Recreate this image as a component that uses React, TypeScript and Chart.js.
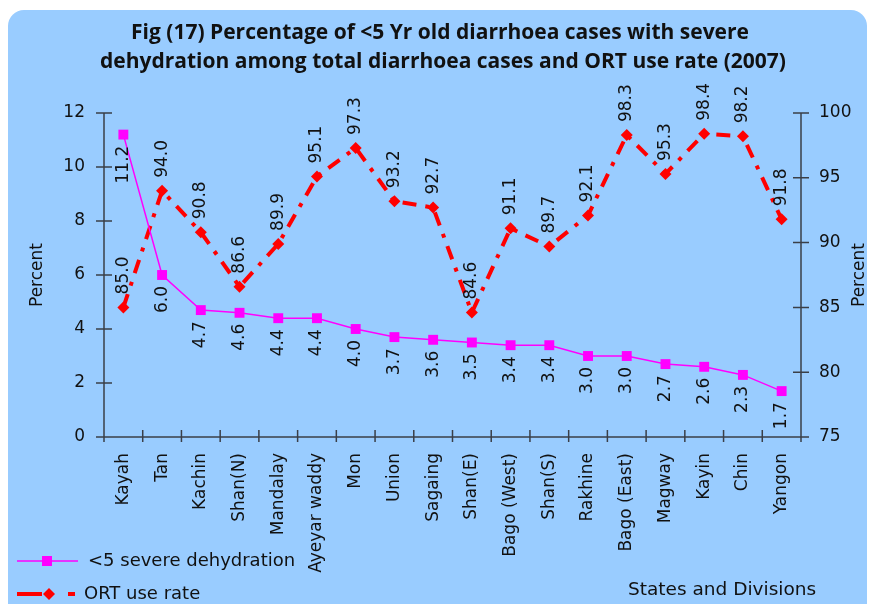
import React, { useEffect, useRef } from "react";
import { Chart, registerables } from "chart.js";

Chart.register(...registerables);

const categories = [
  "Kayah", "Tan", "Kachin", "Shan(N)", "Mandalay", "Ayeyar waddy", "Mon", "Union", "Sagaing",
  "Shan(E)", "Bago (West)", "Shan(S)", "Rakhine", "Bago (East)", "Magway", "Kayin", "Chin", "Yangon",
];
const severeDehydration = [11.2, 6.0, 4.7, 4.6, 4.4, 4.4, 4.0, 3.7, 3.6, 3.5, 3.4, 3.4, 3.0, 3.0, 2.7, 2.6, 2.3, 1.7];
const ortUseRate = [85.0, 94.0, 90.8, 86.6, 89.9, 95.1, 97.3, 93.2, 92.7, 84.6, 91.1, 89.7, 92.1, 98.3, 95.3, 98.4, 98.2, 91.8];
const titleLines = [
  "Fig (17) Percentage of <5 Yr old diarrhoea cases with severe",
  "dehydration among total diarrhoea cases and ORT use rate (2007)",
];
const seriesNames = ["<5 severe dehydration", "ORT use rate"];
const leftAxisRange = [0, 12, 2];
const rightAxisRange = [75, 100, 5];
const axisTitle = "Percent";
const xAxisTitle = "States and Divisions";

const FONT = "'DejaVu Sans', sans-serif";
const AXIS = "#3a3f48";
const ORT_DASH = [14, 9, 4, 9];

const decorPlugin = {
  id: "decor",
  beforeDraw(chart: any) {
    const ctx = chart.ctx;
    ctx.save();
    ctx.fillStyle = "#ffffff";
    ctx.fillRect(0, 0, chart.width, chart.height);
    ctx.fillStyle = "#99ccff";
    ctx.beginPath();
    (ctx as any).roundRect(8, 10, 859, 620, 16);
    ctx.fill();
    ctx.restore();
  },
  beforeDatasetsDraw(chart: any) {
    const ctx = chart.ctx;
    const { left, right, top, bottom } = chart.chartArea;
    const x = chart.scales.x;
    const y = chart.scales.y;
    const y1 = chart.scales.y1;
    ctx.save();
    ctx.strokeStyle = AXIS;
    ctx.lineWidth = 1.5;
    ctx.beginPath();
    ctx.moveTo(left, top);
    ctx.lineTo(left, bottom);
    ctx.moveTo(right, top);
    ctx.lineTo(right, bottom);
    ctx.moveTo(left - 8, bottom);
    ctx.lineTo(right + 8, bottom);
    for (let v = leftAxisRange[0]; v <= leftAxisRange[1]; v += leftAxisRange[2]) {
      const py = y.getPixelForValue(v);
      ctx.moveTo(left - 8, py);
      ctx.lineTo(left + 8, py);
    }
    for (let v = rightAxisRange[0]; v <= rightAxisRange[1]; v += rightAxisRange[2]) {
      const py = y1.getPixelForValue(v);
      ctx.moveTo(right - 8, py);
      ctx.lineTo(right + 8, py);
    }
    const w = x.getPixelForValue(1) - x.getPixelForValue(0);
    for (let i = 0; i <= categories.length; i++) {
      const px = x.getPixelForValue(0) - w / 2 + i * w;
      ctx.moveTo(px, bottom - 7);
      ctx.lineTo(px, bottom + 5);
    }
    ctx.stroke();
    ctx.restore();
  },
  afterDatasetsDraw(chart: any) {
    const ctx = chart.ctx;
    const { top, bottom } = chart.chartArea;
    ctx.save();
    // data labels
    ctx.fillStyle = "#111111";
    ctx.font = `17px ${FONT}`;
    ctx.textBaseline = "middle";
    const m0 = chart.getDatasetMeta(0);
    m0.data.forEach((pt: any, i: number) => {
      ctx.save();
      ctx.translate(pt.x, pt.y + 11);
      ctx.rotate(-Math.PI / 2);
      ctx.textAlign = "right";
      ctx.fillText(severeDehydration[i].toFixed(1), 0, 0);
      ctx.restore();
    });
    const m1 = chart.getDatasetMeta(1);
    m1.data.forEach((pt: any, i: number) => {
      ctx.save();
      ctx.translate(pt.x, pt.y - 13);
      ctx.rotate(-Math.PI / 2);
      ctx.textAlign = "left";
      ctx.fillText(ortUseRate[i].toFixed(1), 0, 0);
      ctx.restore();
    });
    // axis titles
    const midY = (top + bottom) / 2;
    ctx.textAlign = "center";
    ctx.save();
    ctx.translate(38, midY);
    ctx.rotate(-Math.PI / 2);
    ctx.fillText(axisTitle, 0, 0);
    ctx.restore();
    ctx.save();
    ctx.translate(860, midY);
    ctx.rotate(-Math.PI / 2);
    ctx.fillText(axisTitle, 0, 0);
    ctx.restore();
    // title
    ctx.font = `bold 21px 'Open Sans', sans-serif`;
    ctx.textAlign = "center";
    ctx.fillText(titleLines[0], 440, 33);
    ctx.fillText(titleLines[1], 443, 62);
    // legend
    ctx.font = `18px ${FONT}`;
    ctx.textAlign = "left";
    ctx.strokeStyle = "#ff00ff";
    ctx.lineWidth = 1.5;
    ctx.beginPath();
    ctx.moveTo(17, 561);
    ctx.lineTo(78, 561);
    ctx.stroke();
    ctx.fillStyle = "#ff00ff";
    ctx.fillRect(42, 556, 10, 10);
    ctx.fillStyle = "#111111";
    ctx.fillText(seriesNames[0], 88, 561);
    ctx.strokeStyle = "#ff0000";
    ctx.lineWidth = 4;
    ctx.beginPath();
    ctx.moveTo(17, 594);
    ctx.lineTo(42, 594);
    ctx.moveTo(68, 594);
    ctx.lineTo(75, 594);
    ctx.stroke();
    ctx.fillStyle = "#ff0000";
    ctx.beginPath();
    ctx.moveTo(43, 594);
    ctx.lineTo(49, 588);
    ctx.lineTo(55, 594);
    ctx.lineTo(49, 600);
    ctx.closePath();
    ctx.fill();
    ctx.fillStyle = "#111111";
    ctx.fillText(seriesNames[1], 84, 594);
    ctx.font = `18.5px ${FONT}`;
    ctx.fillText(xAxisTitle, 628, 590);
    ctx.restore();
  },
};

export default function App() {
  const ref = useRef<HTMLCanvasElement | null>(null);
  useEffect(() => {
    if (!ref.current) return;
    const chart = new Chart(ref.current, {
      type: "line",
      data: {
        labels: categories,
        datasets: [
          {
            label: seriesNames[0],
            data: severeDehydration,
            yAxisID: "y",
            borderColor: "#ff00ff",
            backgroundColor: "#ff00ff",
            borderWidth: 1.5,
            pointStyle: "rect",
            pointRadius: 7,
            pointBorderWidth: 0,
            tension: 0,
          },
          {
            label: seriesNames[1],
            data: ortUseRate,
            yAxisID: "y1",
            borderColor: "#ff0000",
            backgroundColor: "#ff0000",
            borderWidth: 4,
            borderDash: ORT_DASH,
            borderCapStyle: "butt",
            pointStyle: "rectRot",
            pointRadius: 6,
            pointBorderWidth: 0,
            tension: 0,
          },
        ],
      },
      options: {
        responsive: false,
        animation: false,
        layout: { padding: { top: 113, left: 0, right: 0, bottom: 0 } },
        plugins: { legend: { display: false }, title: { display: false }, tooltip: { enabled: false } },
        scales: {
          x: {
            offset: true,
            grid: { display: false, drawTicks: false },
            border: { display: false },
            ticks: {
              autoSkip: false,
              minRotation: 90,
              maxRotation: 90,
              padding: 16,
              color: "#111111",
              font: { family: FONT, size: 17 },
            },
            afterFit: (s: any) => { s.height = 167; },
          },
          y: {
            position: "left",
            min: leftAxisRange[0],
            max: leftAxisRange[1],
            grid: { display: false, drawTicks: false },
            border: { display: false },
            ticks: { stepSize: leftAxisRange[2], padding: 19, color: "#111111", font: { family: FONT, size: 17 } },
            afterFit: (s: any) => { s.width = 104; },
          },
          y1: {
            position: "right",
            min: rightAxisRange[0],
            max: rightAxisRange[1],
            grid: { display: false, drawTicks: false },
            border: { display: false },
            ticks: { stepSize: rightAxisRange[2], padding: 18, color: "#111111", font: { family: FONT, size: 17 } },
            afterFit: (s: any) => { s.width = 69; },
          },
        },
      },
      plugins: [decorPlugin],
    });
    return () => chart.destroy();
  }, []);
  return (
    <div style={{ position: "absolute", left: 0, top: 0, width: 870, height: 604 }}>
      <canvas ref={ref} width={870} height={604} style={{ display: "block" }} />
    </div>
  );
}
